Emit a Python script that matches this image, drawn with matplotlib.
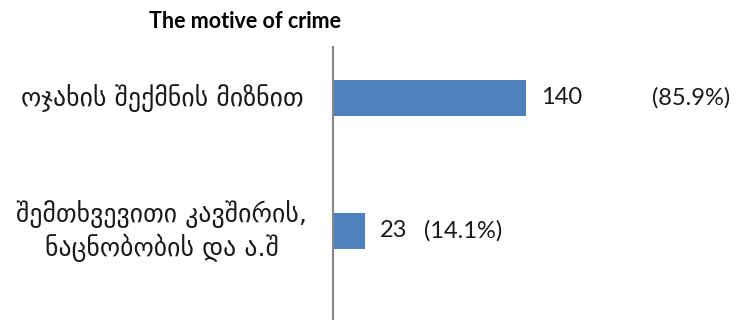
import matplotlib.pyplot as plt

categories = ["ოჯახის შექმნის მიზნით", "შემთხვევითი კავშირის,\nნაცნობობის და ა.შ"]
counts = [140, 23]
shares = [85.9, 14.1]

pct_gap = [126, 59]  # px from bar end to the percent label

fig = plt.figure(figsize=(7.41, 3.2), dpi=100)
ax = fig.add_axes([333 / 741, 0, 1 - 333 / 741, 1 - 47 / 320])

ypos = list(range(len(categories)))
ax.barh(ypos, counts, height=0.27, color="#4F81BD")
ax.set_xlim(0, 296)
ax.set_ylim(1.669, -0.383)

ax.set_yticks([])
ax.set_xticks([])
# category labels centred at about x=162 px, one text per line so each is centred
label_x = (162 - 333) / (741 - 333)
line_h = 33
for y, cat in zip(ypos, categories):
    lines = cat.split("\n")
    for i, line in enumerate(lines):
        dy = ((len(lines) - 1) / 2 - i) * line_h
        ax.annotate(line, (label_x, y), xycoords=ax.get_yaxis_transform(),
                    xytext=(0, dy), textcoords="offset pixels", ha="center",
                    va="center", fontsize=18.5, family="DejaVu Sans", color="#1a1a1a")

for s in ["top", "right", "bottom"]:
    ax.spines[s].set_visible(False)
ax.spines["left"].set_color("#868686")
ax.spines["left"].set_linewidth(1.5)

for y, c, p, g in zip(ypos, counts, shares, pct_gap):
    ax.annotate(str(c), (c, y), xytext=(15, 0), textcoords="offset pixels",
                va="center", ha="left", fontsize=17, family="Lato", color="#1a1a1a")
    ax.annotate("(%.1f%%)" % p, (c, y), xytext=(g, 0), textcoords="offset pixels",
                va="center", ha="left", fontsize=17, family="Lato", color="#1a1a1a")

fig.text(245 / 741, 1 - 21 / 320, "The motive of crime", ha="center", va="center",
         fontsize=15.5, fontweight="bold", family="Lato")

fig.savefig("out.png", dpi=100)
